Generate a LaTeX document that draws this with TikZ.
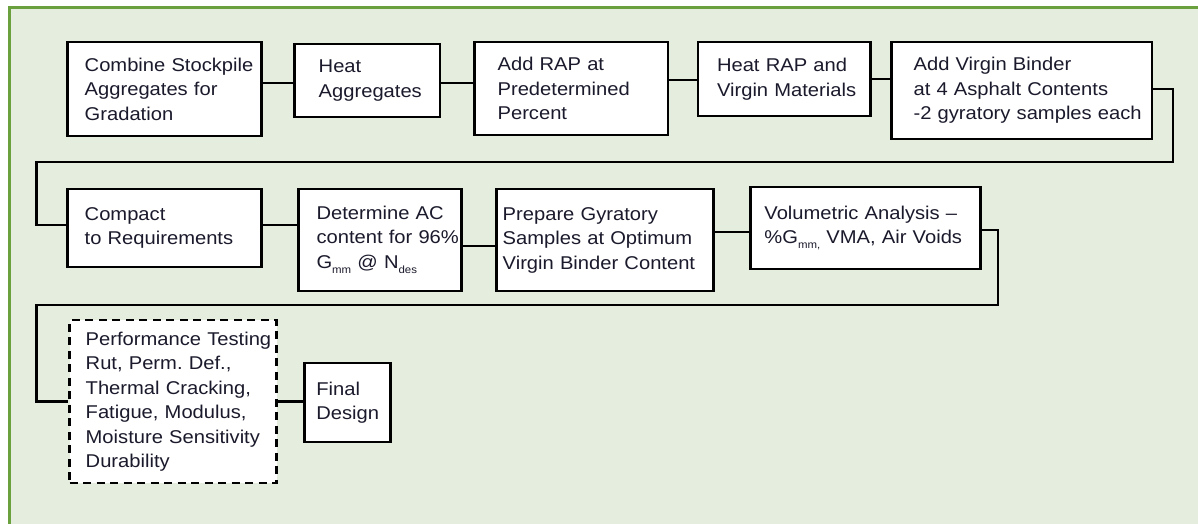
\documentclass[tikz,border=0pt]{standalone}
\usepackage{fontspec}
\setmainfont{Liberation Sans}[FakeStretch=1.09]
\hyphenpenalty=10000
\exhyphenpenalty=10000
\definecolor{framefill}{HTML}{E5EDDF}
\definecolor{framedraw}{HTML}{6BA03F}
\definecolor{txt}{HTML}{1A1A2C}
\newcommand\subx[1]{\raisebox{-0.55ex}{\fontsize{10.5}{10.5}\selectfont #1}}
\tikzset{
  box/.style={draw=black, fill=white, line width=2.9pt, align=left, inner ysep=0pt,
    text=txt, font=\fontsize{18.5}{24.5}\selectfont},
  dashbox/.style={box, dash pattern=on 8pt off 5.5pt},
  link/.style={draw=black, line width=2.6pt},
}
\begin{document}
\begin{tikzpicture}[x=1pt,y=-1pt]
\useasboundingbox (0,0) rectangle (1198,524);
\clip (0,0) rectangle (1198,524);
\fill[white] (0,0) rectangle (1198,524);
\draw[fill=framefill, draw=framedraw, line width=3pt] (9,8) rectangle (1215,540);

% row 1
\node[box, inner xsep=17pt, text width=160.1pt, minimum height=94pt] (b1) at (164.75,89)
  {Combine~Stockpile\\Aggregates~for\\Gradation};
\node[box, inner xsep=24pt, text width=97.3pt, minimum height=73pt] (b2) at (367.35,80.5)
  {Heat\\Aggregates};
\node[box, inner xsep=23pt, text width=147.4pt, minimum height=93pt] (b3) at (571.3,88.5)
  {Add~RAP~at\\Predetermined\\Percent};
\node[box, inner xsep=19pt, text width=134.6pt, minimum height=74pt] (b4) at (784.3,79)
  {Heat~RAP~and\\Virgin~Materials};
\node[box, inner xsep=22pt, text width=216.4pt, minimum height=97pt] (b5) at (1021.8,90.5)
  {Add~Virgin~Binder\\at~4~Asphalt~Contents\\-2~gyratory~samples~each};

% row 2
\node[box, inner xsep=17pt, text width=160.1pt, minimum height=78pt] (b6) at (164.75,228)
  {Compact\\to~Requirements};
\node[box, inner xsep=18pt, text width=126.7pt, minimum height=102pt] (b7) at (379.85,240)
  {Determine~AC\\content~for~96\%\\G\subx{mm}~@~N\subx{des}};
\node[box, inner xsep=6pt, text width=205pt, minimum height=102pt] (b8) at (605.2,240)
  {Prepare~Gyratory\\Samples~at~Optimum\\Virgin~Binder~Content};
\node[box, inner xsep=14pt, text width=202.4pt, minimum height=82pt] (b9) at (865.6,228)
  {Volumetric~Analysis~–\\\%G\subx{mm,}~VMA,~Air~Voids};

% row 3
\node[dashbox, inner xsep=16pt, text width=175pt, minimum height=163pt] (b10) at (173.2,401.5)
  {Performance~Testing\\Rut,~Perm.~Def.,\\Thermal~Cracking,\\Fatigue,~Modulus,\\Moisture~Sensitivity\\Durability};
\node[box, inner xsep=12pt, text width=62.1pt, minimum height=79pt] (b11) at (347.35,402.5)
  {Final\\Design};

\coordinate (r1) at (1173,162);
\coordinate (l1) at (36.7,162);
\coordinate (r2) at (998,305);
\coordinate (l2) at (36.7,305);

\draw[link] ([yshift=6pt]b1.east) -- ([yshift=-2.5pt]b2.west);
\draw[link] ([yshift=-2.5pt]b2.east) -- ([yshift=5.5pt]b3.west);
\draw[link] ([yshift=8.5pt]b3.east) -- ([yshift=-1pt]b4.west);
\draw[link] (b4.east) -- ([yshift=11.5pt]b5.west);
\draw[link] ([yshift=1.5pt]b5.east) -| (r1) -- (l1) |- ([yshift=3pt]b6.west);
\draw[link] ([yshift=3pt]b6.east) -- ([yshift=15pt]b7.west);
\draw[link] ([yshift=-6pt]b7.east) -- ([yshift=-6pt]b8.west);
\draw[link] ([yshift=8pt]b8.east) -- ([yshift=-4pt]b9.west);
\draw[link] ([yshift=-2pt]b9.east) -| (r2) -- (l2) |- (b10.west);
\draw[link] (b10.east) -- (b10.east -| b11.west);
\end{tikzpicture}
\end{document}
